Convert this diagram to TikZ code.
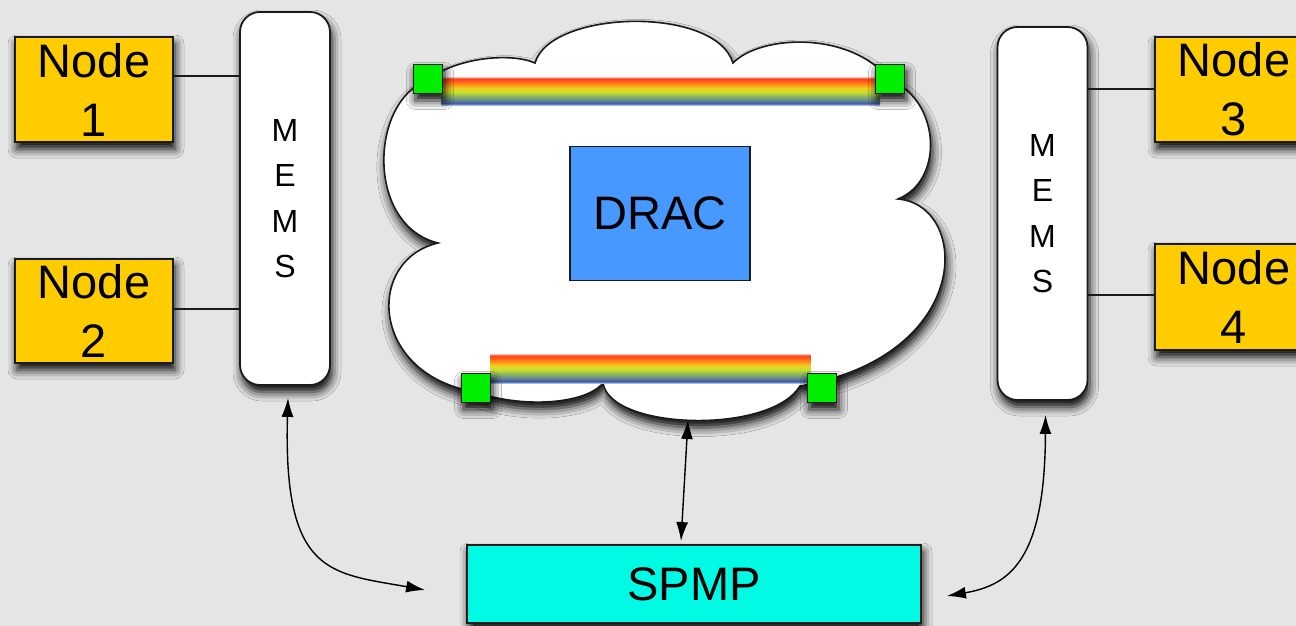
\documentclass[tikz,border=0pt]{standalone}
\usepackage{fontspec}
\setmainfont{Liberation Sans}
\usetikzlibrary{shadows.blur,arrows.meta,calc}

\definecolor{bg}{HTML}{E5E5E5}
\definecolor{nodegold}{HTML}{FFCC00}
\definecolor{dracblue}{HTML}{4799FF}
\definecolor{spmpcyan}{HTML}{00FBE4}
\definecolor{padgreen}{HTML}{00EE00}
\definecolor{edge}{HTML}{1A1A1A}
% colours of the light-pipe bars, bottom to top
\definecolor{rbA}{HTML}{A8B8E8}
\definecolor{rbB}{HTML}{3C5AA8}
\definecolor{rbC}{HTML}{6A8A90}
\definecolor{rbD}{HTML}{8CBA5A}
\definecolor{rbE}{HTML}{C8E030}
\definecolor{rbF}{HTML}{F0D020}
\definecolor{rbG}{HTML}{FF9A18}
\definecolor{rbH}{HTML}{FF5A1A}
\definecolor{rbI}{HTML}{FF4020}
\definecolor{rbJ}{HTML}{FFC0B0}
\pgfdeclareverticalshading{rainbowbar}{100bp}{%
  color(0bp)=(rbA); color(25bp)=(rbA); color(27.7bp)=(rbB); color(34bp)=(rbC);
  color(41bp)=(rbD); color(48bp)=(rbE); color(55bp)=(rbF); color(60.7bp)=(rbG);
  color(68bp)=(rbH); color(72.3bp)=(rbI); color(75bp)=(rbJ); color(100bp)=(rbJ)}

\newcommand{\diagfont}{\fontsize{47}{59}\selectfont}
\newcommand{\memsfont}{\fontsize{32}{45.5}\selectfont}

\tikzset{
  softshadow/.style={blur shadow={shadow xshift=2pt, shadow yshift=-7pt,
      shadow blur radius=9pt, shadow opacity=100}},
  nodebox/.style={draw=edge, line width=1.8pt, fill=nodegold,
      minimum width=158pt, minimum height=105pt, inner sep=0pt,
      align=center, font=\diagfont, softshadow},
  memsbox/.style={draw=edge, line width=1.8pt, fill=white, rounded corners=20pt,
      minimum width=90pt, minimum height=373pt, inner sep=0pt,
      align=center, font=\memsfont, softshadow},
  dracbox/.style={draw=edge, line width=1.8pt, fill=dracblue,
      minimum width=180pt, minimum height=134pt, inner sep=0pt, font=\diagfont},
  spmpbox/.style={draw=edge, line width=1.8pt, fill=spmpcyan,
      minimum width=454pt, minimum height=78pt, inner sep=0pt,
      font=\diagfont, softshadow},
  pad/.style={draw=edge, line width=1.5pt, fill=padgreen,
      minimum size=29pt, inner sep=0pt, softshadow},
  wire/.style={draw=edge, line width=1.4pt},
  link/.style={draw=black, line width=1.4pt,
      {Latex[length=19pt,width=12pt]}-{Latex[length=19pt,width=12pt]}},
}

\begin{document}
\begin{tikzpicture}[x=1pt, y=-1pt]
  \useasboundingbox (0,0) rectangle (1296,626);
  \clip (0,0) rectangle (1296,626);
  \fill[bg] (0,0) rectangle (1296,626);

  % the switching cloud
  \path[fill=white, draw=edge, line width=1.6pt, softshadow]
    (428,80) .. controls (455,58) and (510,52) .. (535,63)
    .. controls (550,10) and (715,5) .. (733,63)
    .. controls (760,35) and (850,30) .. (890,80)
    .. controls (940,100) and (945,180) .. (898,199)
    .. controls (970,205) and (975,355) .. (800,386)
    .. controls (770,435) and (610,430) .. (603,383)
    .. controls (585,405) and (520,408) .. (476,392)
    .. controls (370,375) and (365,260) .. (438,243)
    .. controls (365,225) and (370,100) .. (428,80) -- cycle;
  \coordinate (cloudB) at (688,420);

  \node[dracbox] (drac) at (660,213.5) {DRAC};

  % light pipes, then their end pads on top
  \coordinate (cTL) at (428,79);
  \coordinate (cTR) at (890,79);
  \coordinate (cBL) at (476,388);
  \coordinate (cBR) at (822,388);
  \shade[shading=rainbowbar] ($(cTL)+(13.5,-2)$) rectangle ($(cTR)+(-10,26)$);
  \shade[shading=rainbowbar] ($(cBL)+(14.5,-34)$) rectangle ($(cBR)+(-11.5,-5)$);
  \node[pad] (gTL) at (cTL) {};
  \node[pad] (gTR) at (cTR) {};
  \node[pad] (gBL) at (cBL) {};
  \node[pad] (gBR) at (cBR) {};

  % MEMS switches
  \node[memsbox] (memsL) at (285,198.5) {M\\E\\M\\S};
  \node[memsbox] (memsR) at (1042.5,213.5) {M\\E\\M\\S};

  % compute nodes
  \node[nodebox] (n1) at (94,89.5) {Node\\1};
  \node[nodebox, minimum height=104pt] (n2) at (94,311) {Node\\2};
  \node[nodebox] (n3) at (1234,89.5) {Node\\3};
  \node[nodebox, minimum height=106pt] (n4) at (1234,297) {Node\\4};

  \draw[wire] (n1.north east) ++(0,40) coordinate (w1) -- (w1 -| memsL.west);
  \draw[wire] (n2.north east) ++(0,51) coordinate (w2) -- (w2 -| memsL.west);
  \draw[wire] (n3.north west) ++(0,53) coordinate (w3) -- (w3 -| memsR.east);
  \draw[wire] (n4.north west) ++(0,52) coordinate (w4) -- (w4 -| memsR.east);

  % management processor
  \node[spmpbox] (spmp) at (694,584) {SPMP};

  \draw[link] ($(memsL.south)+(3,12)$) .. controls (283,575) and (330,573)
    .. ($(spmp.west)+(-41,6)$);
  \draw[link] (cloudB) -- ($(spmp.north)+(-13,-3)$);
  \draw[link] ($(memsR.south)+(3,14)$) .. controls (1045,560) and (1010,585)
    .. ($(spmp.east)+(25,12)$);
\end{tikzpicture}
\end{document}
